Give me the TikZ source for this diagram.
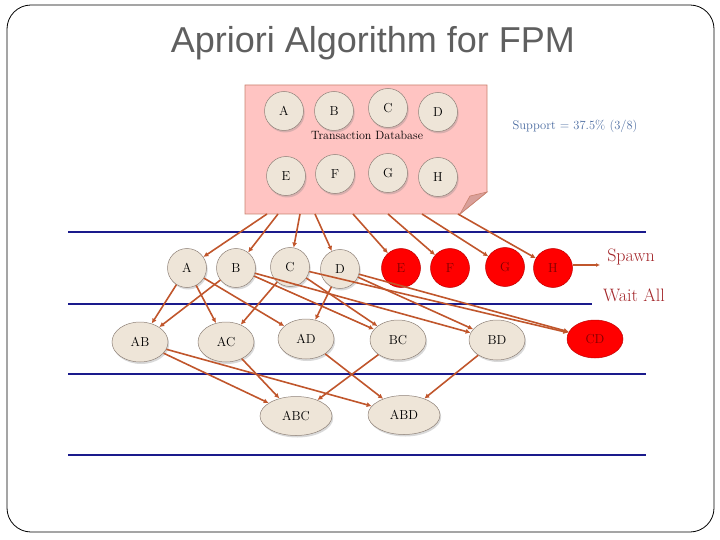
\documentclass[tikz,border=0pt]{standalone}
\usepackage{fontspec}
\newfontfamily\titlefont{Liberation Sans}
\usetikzlibrary{arrows.meta,shadows,shapes.geometric}
\definecolor{beige}{HTML}{EEE5D8}
\definecolor{beigeline}{HTML}{8E8178}
\definecolor{arrowc}{HTML}{C0562C}
\definecolor{navy}{HTML}{1A1A8C}
\definecolor{dbfill}{HTML}{FFC4C2}
\definecolor{dbline}{HTML}{C9826F}
\definecolor{foldc}{HTML}{D9A09A}
\definecolor{darkred}{HTML}{A3262A}
\definecolor{supportc}{HTML}{4A6BA0}
\definecolor{titlec}{HTML}{5F5F5F}
\begin{document}
\begin{tikzpicture}[x=1pt,y=-1pt,
  myshadow/.style={drop shadow={shadow xshift=1.2pt,shadow yshift=-2pt,opacity=0.3}},
  circnode/.style={circle,minimum size=39pt,inner sep=0pt,fill=beige,draw=beigeline,line width=0.5pt,myshadow,font=\fontsize{13}{15}\selectfont},
  rednode/.style={circle,minimum size=39pt,inner sep=0pt,fill=red,draw=red!75!black,line width=0.5pt,font=\fontsize{13}{15}\selectfont,text=red!50!black},
  ellnode/.style={ellipse,minimum width=56pt,minimum height=40pt,inner sep=0pt,fill=beige,draw=beigeline,line width=0.5pt,myshadow,font=\fontsize{13}{15}\selectfont},
  bigell/.style={ellnode,minimum width=72pt,minimum height=39pt},
  redell/.style={ellipse,minimum width=56pt,minimum height=38pt,inner sep=0pt,fill=red,draw=red!75!black,line width=0.5pt,font=\fontsize{13}{15}\selectfont,text=red!50!black},
  arr/.style={draw=arrowc,line width=1.6pt,-{Latex[length=5pt,width=5pt]}},
  blueline/.style={draw=navy,line width=2.2pt}]
\useasboundingbox (0,0) rectangle (720,540);
% frame
\draw[black,line width=0.8pt,rounded corners=24pt] (7,5) rectangle (714,532);
\node[font=\titlefont\fontsize{36}{40}\selectfont,text=titlec] (title) at (373,43) {Apriori Algorithm for FPM};
% blue lines
\draw[blueline] (68,232) -- (646,232);
\draw[blueline] (68,304) -- (592,304);
\draw[blueline] (68,374) -- (646,374);
\draw[blueline] (68,455) -- (646,455);
% transaction database
\path[fill=dbfill,draw=dbline,line width=0.8pt] (245,85) -- (487,85) -- (487,192) -- (460,214) -- (245,214) -- cycle;
\path[fill=foldc,draw=dbline,line width=0.6pt] (487,192) -- (470,196) -- (460,214) -- cycle;
\node[circnode] (dA) at (284,111) {A};
\node[circnode] (dB) at (334,111) {B};
\node[circnode] (dC) at (388,108) {C};
\node[circnode] (dD) at (438,112) {D};
\node[circnode] (dE) at (286,176) {E};
\node[circnode] (dF) at (335,174) {F};
\node[circnode] (dG) at (388,173) {G};
\node[circnode] (dH) at (438,177) {H};
\node[font=\fontsize{12}{14}\selectfont] (tdb) at (367,135) {Transaction Database};
\node[font=\fontsize{12.5}{14}\selectfont,text=supportc] (sup) at (575,126) {Support = 37.5\% (3/8)};
% level 1
\node[circnode] (A) at (187,268) {A};
\node[circnode] (B) at (236,268) {B};
\node[circnode] (C) at (290,267) {C};
\node[circnode] (D) at (340,269) {D};
\node[rednode] (E) at (401,268) {E};
\node[rednode] (F) at (450,268) {F};
\node[rednode] (G) at (505,267) {G};
\node[rednode] (H) at (553,268) {H};
% level 2
\node[ellnode] (AB) at (140,342) {AB};
\node[ellnode] (AC) at (226,342) {AC};
\node[ellnode] (AD) at (306,339) {AD};
\node[ellnode] (BC) at (398,340) {BC};
\node[ellnode] (BD) at (497,340) {BD};
\node[redell] (CD) at (595,339) {CD};
% level 3
\node[bigell] (ABC) at (296,416) {ABC};
\node[bigell] (ABD) at (404,415) {ABD};
% labels right
\node[font=\fontsize{18}{20}\selectfont,text=darkred] (spawn) at (631,257) {Spawn};
\node[font=\fontsize{18}{20}\selectfont,text=darkred] (wait) at (634,295) {Wait All};
\coordinate (sp) at (600,265);
\draw[arr,line width=1.4pt,-{Latex[length=4pt,width=4pt]}] (H.east |- sp) -- (sp);
% db -> level1
\coordinate (s1) at (267,214);
\coordinate (s2) at (278,214);
\coordinate (s3) at (300,214);
\coordinate (s4) at (315,214);
\coordinate (s5) at (353,214);
\coordinate (s6) at (388,214);
\coordinate (s7) at (422,214);
\coordinate (s8) at (458,214);
\draw[arr] (s1) -- (A);
\draw[arr] (s2) -- (B);
\draw[arr] (s3) -- (C);
\draw[arr] (s4) -- (D);
\draw[arr] (s5) -- (E);
\draw[arr] (s6) -- (F);
\draw[arr] (s7) -- (G);
\draw[arr] (s8) -- (H);
% level1 -> level2
\draw[arr] (A) -- (AB);
\draw[arr] (B) -- (AB);
\draw[arr] (A) -- (AC);
\draw[arr] (C) -- (AC);
\draw[arr] (A) -- (AD);
\draw[arr] (D) -- (AD);
\draw[arr] (B) -- (BC);
\draw[arr] (C) -- (BC);
\draw[arr] (B) -- (BD);
\draw[arr] (D) -- (BD);
\draw[arr] (C) -- (CD);
\draw[arr] (D) -- (CD);
% level2 -> level3
\draw[arr] (AB) -- (ABC);
\draw[arr] (AC) -- (ABC);
\draw[arr] (BC) -- (ABC);
\draw[arr] (AB) -- (ABD);
\draw[arr] (AD) -- (ABD);
\draw[arr] (BD) -- (ABD);
\end{tikzpicture}
\end{document}
